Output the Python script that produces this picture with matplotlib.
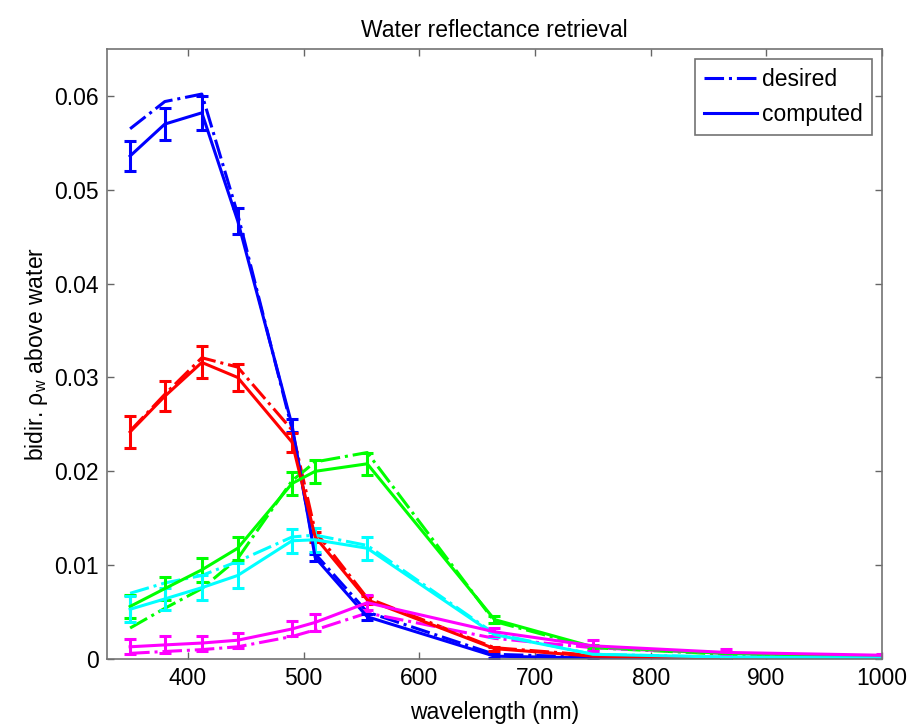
import numpy as np
import matplotlib
matplotlib.use('Agg')
from matplotlib import pyplot as plt

plt.rcParams['font.family'] = ['Liberation Sans', 'DejaVu Sans']
plt.rcParams['mathtext.fontset'] = 'custom'
plt.rcParams['mathtext.rm'] = 'Liberation Sans'
plt.rcParams['mathtext.it'] = 'Liberation Sans'
plt.rcParams['mathtext.default'] = 'regular'

# wavelengths (nm)
wl = [350, 380, 412, 443, 490, 510, 555, 665, 750, 865, 1000]

# desired reflectance (dash-dot)
blue_des = [0.0565, 0.0594, 0.0602, 0.0474, 0.0245, 0.0112, 0.0050, 0.0005, 0.0002, 0.0001, 0.0000]
red_des = [0.0243, 0.0282, 0.0321, 0.0311, 0.0244, 0.0136, 0.0065, 0.0012, 0.0004, 0.0001, 0.0000]
green_des = [0.0033, 0.0054, 0.0075, 0.0107, 0.0190, 0.0210, 0.0220, 0.0040, 0.0012, 0.0005, 0.0002]
cyan_des = [0.0070, 0.0081, 0.0089, 0.0104, 0.0130, 0.0132, 0.0121, 0.0027, 0.0005, 0.0002, 0.0001]
mag_des = [0.0006, 0.0008, 0.0010, 0.0013, 0.0024, 0.0031, 0.0049, 0.0022, 0.0012, 0.0006, 0.0003]

# computed reflectance (solid) and its error
blue_cmp = [0.0536, 0.0570, 0.0582, 0.0467, 0.0249, 0.0108, 0.0045, 0.0003, 0.0001, 0.0000, 0.0000]
blue_err = [0.0016, 0.0017, 0.0018, 0.0014, 0.0007, 0.0004, 0.0003, 0.0002, 0.0001, 0.0001, 0.0000]
red_cmp = [0.0242, 0.0280, 0.0316, 0.0300, 0.0231, 0.0130, 0.0063, 0.0011, 0.0003, 0.0001, 0.0000]
red_err = [0.0017, 0.0016, 0.0017, 0.0014, 0.0010, 0.0005, 0.0004, 0.0002, 0.0001, 0.0001, 0.0000]
green_cmp = [0.0056, 0.0075, 0.0095, 0.0118, 0.0187, 0.0200, 0.0208, 0.0042, 0.0013, 0.0006, 0.0003]
green_err = [0.0012, 0.0012, 0.0013, 0.0012, 0.0012, 0.0012, 0.0012, 0.0004, 0.0002, 0.0001, 0.0000]
cyan_cmp = [0.0053, 0.0064, 0.0076, 0.0089, 0.0126, 0.0127, 0.0118, 0.0026, 0.0005, 0.0002, 0.0001]
cyan_err = [0.0014, 0.0012, 0.0013, 0.0013, 0.0013, 0.0013, 0.0012, 0.0003, 0.0002, 0.0001, 0.0000]
mag_cmp = [0.0013, 0.0015, 0.0017, 0.0020, 0.0032, 0.0039, 0.0060, 0.0029, 0.0014, 0.0007, 0.0004]
mag_err = [0.0008, 0.0009, 0.0008, 0.0008, 0.0008, 0.0009, 0.0008, 0.0004, 0.0006, 0.0004, 0.0001]

colors = ['#0000ff', '#ff0000', '#00ff00', '#00ffff', '#ff00ff']
desired = [blue_des, red_des, green_des, cyan_des, mag_des]
computed = [blue_cmp, red_cmp, green_cmp, cyan_cmp, mag_cmp]
errors = [blue_err, red_err, green_err, cyan_err, mag_err]

yticks = [0, 0.01, 0.02, 0.03, 0.04, 0.05, 0.06]
ytick_labels = ['0', '0.01', '0.02', '0.03', '0.04', '0.05', '0.06']
xticks = [400, 500, 600, 700, 800, 900, 1000]

fig = plt.figure(figsize=(9.12, 7.26), dpi=100)
ax = fig.add_axes([0.1173, 0.0923, 0.8498, 0.8402])

handles = []
# dash-dot "desired" curves first, error bar "computed" curves on top
for c, d in zip(colors, desired):
	h, = ax.plot(wl, d, '-.', color=c, lw=2.2)
	handles.append(h)
for c, m, e in zip(colors, computed, errors):
	eb = ax.errorbar(wl, m, yerr=e, color=c, lw=2.2, elinewidth=2.2,
		capsize=4.5, capthick=2.2)
	handles.append(eb.lines[0])

ax.set_xlim(330, 1000)
ax.set_ylim(0, 0.065)
ax.set_xticks(xticks)
ax.set_xticklabels([str(x) for x in xticks])
ax.set_yticks(yticks)
ax.set_yticklabels(ytick_labels)
ax.tick_params(direction='in', length=5, width=1, color='0.4', labelsize=16.5,
	top=True, right=True, pad=6)
for s in ax.spines.values():
	s.set_color('0.45')
	s.set_linewidth(1.2)

ax.set_title('Water reflectance retrieval', fontsize=16.5, pad=9)
ax.set_xlabel('wavelength (nm)', fontsize=16.5, labelpad=8)
ax.set_ylabel('bidir. \u03c1$_w$ above water', fontsize=16.5, labelpad=3)

leg = ax.legend([handles[0], handles[5]], ['desired', 'computed'], loc='upper right',
	fontsize=16.5, handlelength=2.3, handletextpad=0.2, borderpad=0.4,
	labelspacing=0.5, fancybox=False, framealpha=1, borderaxespad=0.45)
leg.get_frame().set_edgecolor('0.45')
leg.get_frame().set_linewidth(1.2)

fig.savefig('out.png', dpi=100)
